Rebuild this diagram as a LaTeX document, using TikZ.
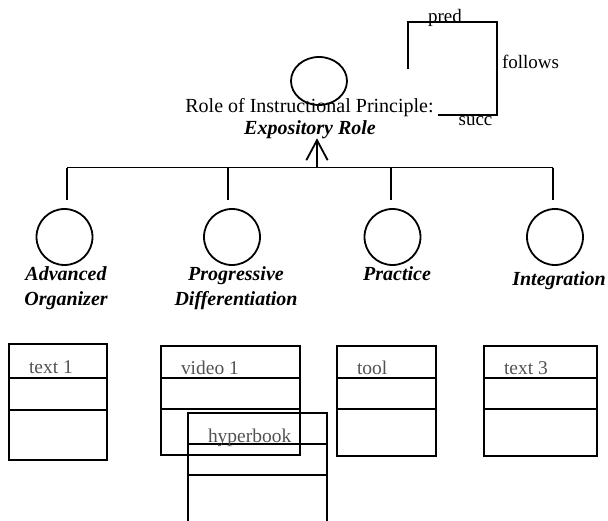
\documentclass[tikz,border=0pt]{standalone}
\usepackage{fontspec}
\setmainfont{Liberation Serif}
\usetikzlibrary{arrows.meta,calc,shapes.geometric}
\begin{document}
\begin{tikzpicture}[x=0.75pt,y=-0.75pt,
  every node/.style={inner sep=0pt,outer sep=0pt},
  line/.style={line width=1.35pt,draw=black},
  rolenode/.style={ellipse,draw,line width=1.35pt,minimum width=42pt,minimum height=36pt},
  phase/.style={circle,draw,line width=1.35pt,minimum size=42pt},
  phaselabel/.style={font=\fontsize{15}{18.75}\selectfont\bfseries\itshape,align=center,anchor=base},
  plaintext/.style={font=\fontsize{15}{18}\selectfont,anchor=base},
  reltext/.style={font=\fontsize{14.25}{17}\selectfont,anchor=base},
  resbox/.style={rectangle,draw,line width=1.35pt},
  restext/.style={font=\fontsize{14.6}{17}\selectfont,text=black!68,anchor=base west},
  rel/.style={-{Straight Barb[length=15pt,width=16pt]},line width=1.35pt}
]
\useasboundingbox (0,0) rectangle (608,521);
\clip (0,0) rectangle (608,521);

% instructional principle
\node[rolenode] (role) at (319,81) {};
\node[plaintext] (roletitle) at (309.5,112) {Role of Instructional Principle:};
\node[phaselabel] (rolename) at (310,134) {Expository Role};

% relation legend: pred / follows / succ
\coordinate (predfoot) at (408,69);
\coordinate (predtop) at (408,22);
\coordinate (folltop) at (497,22);
\coordinate (follbot) at (497,115);
\coordinate (succend) at (438,115);
\draw[line] (predfoot) -- (predtop) -- (folltop) -- (follbot) -- (succend);
\node[reltext] (pred) at (445,22) {pred};
\node[reltext,anchor=base west] (follows) at (502,68) {follows};
\node[reltext] (succ) at (475.5,125) {succ};

% hierarchy bus
\coordinate (hub) at (317,167.5);
\coordinate (tip) at (317,138.3);
\draw[rel] (hub) -- (tip);
\coordinate (b1) at (67,167.5);
\coordinate (b2) at (228,167.5);
\coordinate (b3) at (391,167.5);
\coordinate (b4) at (553,167.5);
\draw[line] (b1) -- (b4);
\foreach \i in {1,...,4} {
  \coordinate (d\i) at ($(b\i)+(0,32.5)$);
  \draw[line] (b\i) -- (d\i);
}

% phases
\node[phase] (adv) at (64.5,237) {};
\node[phase] (prog) at (232,237) {};
\node[phase] (prac) at (392.5,237) {};
\node[phase] (integ) at (555,237) {};
% two-line labels are placed by the baseline of their last line
\node[phaselabel] (advlbl) at (66,305) {Advanced\\Organizer};
\node[phaselabel] (proglbl) at (236,305) {Progressive\\Differentiation};
\node[phaselabel] (praclbl) at (397,280) {Practice};
\node[phaselabel] (integlbl) at (559,285) {Integration};

% learning resources
\node[resbox,minimum width=73.5pt,minimum height=87pt] (text1) at (58,402) {};
\node[resbox,minimum width=104.25pt,minimum height=81.75pt] (video1) at (230.5,400.5) {};
\node[resbox,minimum width=104.25pt,minimum height=95.25pt] (hyper) at (257.5,476.5) {};
\node[resbox,minimum width=74.25pt,minimum height=82.5pt] (tool) at (386.5,401) {};
\node[resbox,minimum width=84.75pt,minimum height=82.5pt] (text3) at (540.5,401) {};

\draw[line] (text1.west |- 0,378) -- (text1.east |- 0,378);
\draw[line] (text1.west |- 0,410) -- (text1.east |- 0,410);
\draw[line] (video1.west |- 0,378) -- (video1.east |- 0,378);
\draw[line] (video1.west |- 0,409) -- (video1.east |- 0,409);
\draw[line] (hyper.west |- 0,444) -- (hyper.east |- 0,444);
\draw[line] (hyper.west |- 0,475) -- (hyper.east |- 0,475);
\draw[line] (tool.west |- 0,378) -- (tool.east |- 0,378);
\draw[line] (tool.west |- 0,409) -- (tool.east |- 0,409);
\draw[line] (text3.west |- 0,378) -- (text3.east |- 0,378);
\draw[line] (text3.west |- 0,409) -- (text3.east |- 0,409);

\node[restext] (text1lbl) at (29,373) {text 1};
\node[restext] (video1lbl) at (181,374) {video 1};
\node[restext] (hyperlbl) at (208,442) {hyperbook};
\node[restext] (toollbl) at (357,374) {tool};
\node[restext] (text3lbl) at (504,374) {text 3};
\end{tikzpicture}
\end{document}
